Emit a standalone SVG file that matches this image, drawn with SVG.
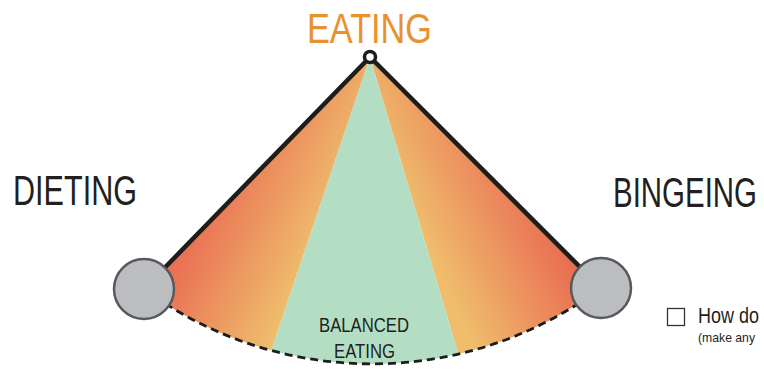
<svg xmlns="http://www.w3.org/2000/svg" width="764" height="369" viewBox="0 0 764 369">
  <defs>
    <style>
      .lbl { font-family: "Liberation Sans Narrow", "Liberation Sans", sans-serif; fill: #231f20; }
      .big { font-size: 43px; }
      .mid { font-size: 21px; }
      .q { font-size: 22px; }
      .small { font-size: 13px; }
      .edge { stroke: #1d1d1b; stroke-width: 4.5; stroke-linecap: round; fill: none; }
      .dash { stroke: #1d1d1b; stroke-width: 2.8; stroke-dasharray: 8 5; fill: none; }
      .endnode { fill: #bcbdc1; stroke: #58595b; stroke-width: 2.5; }
    </style>
    <linearGradient id="gradL" gradientUnits="userSpaceOnUse" x1="165" y1="230" x2="295" y2="290">
      <stop offset="0" stop-color="#e8604f"/>
      <stop offset="1" stop-color="#efbd6c"/>
    </linearGradient>
    <linearGradient id="gradR" gradientUnits="userSpaceOnUse" x1="578" y1="230" x2="448" y2="290">
      <stop offset="0" stop-color="#e8604f"/>
      <stop offset="1" stop-color="#efbd6c"/>
    </linearGradient>
    <clipPath id="fanClip">
      <path d="M370,57 L144,289 A384,384 0 0,0 601,288 Z"/>
    </clipPath>
  </defs>

  <g id="fan" clip-path="url(#fanClip)">
    <polygon points="370,57 100,300 100,420 248,420" fill="url(#gradL)"/>
    <polygon points="370,57 640,300 640,420 478,420" fill="url(#gradR)"/>
    <polygon points="370,57 248,420 478,420" fill="#b4dec4"/>
  </g>

  <g id="connectors">
    <line class="edge" x1="370" y1="57" x2="144" y2="289"/>
    <line class="edge" x1="370" y1="57" x2="601" y2="288"/>
    <path class="dash" d="M144,289 A384,384 0 0,0 601,288"/>
  </g>

  <g id="node-dieting">
    <circle class="endnode" cx="144" cy="289" r="30"/>
    <text class="lbl big" x="13" y="205" textLength="124" lengthAdjust="spacingAndGlyphs">DIETING</text>
  </g>

  <g id="node-bingeing">
    <circle class="endnode" cx="601" cy="288" r="30"/>
    <text class="lbl big" x="613" y="207" textLength="144" lengthAdjust="spacingAndGlyphs">BINGEING</text>
  </g>

  <g id="node-eating">
    <circle cx="370" cy="57" r="5.5" fill="#ffffff" stroke="#1d1d1b" stroke-width="3.5"/>
    <text class="lbl big" x="307" y="43" textLength="125" lengthAdjust="spacingAndGlyphs" style="fill:#e8922e">EATING</text>
  </g>

  <g id="node-balanced">
    <text class="lbl mid" x="319" y="332" textLength="90" lengthAdjust="spacingAndGlyphs">BALANCED</text>
    <text class="lbl mid" x="334" y="358" textLength="61" lengthAdjust="spacingAndGlyphs">EATING</text>
  </g>

  <g id="node-question">
    <rect x="667.5" y="308.5" width="17" height="17" fill="#ffffff" stroke="#333333" stroke-width="1.3"/>
    <text class="lbl q" x="698" y="323" textLength="61" lengthAdjust="spacingAndGlyphs">How do</text>
    <text class="lbl small" x="698" y="342" textLength="57" lengthAdjust="spacingAndGlyphs">(make any</text>
  </g>
</svg>
